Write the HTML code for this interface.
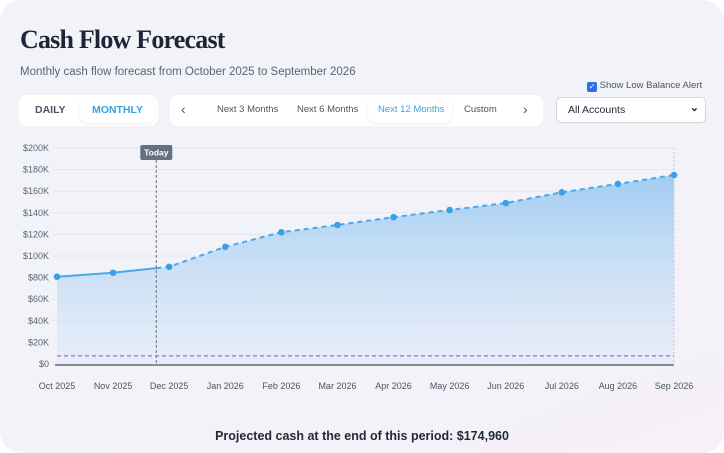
<!DOCTYPE html>
<html><head><meta charset="utf-8"><style>
body{margin:0;width:724px;height:453px;overflow:hidden;background:#fff;font-family:"Liberation Sans",sans-serif;}
#card{position:absolute;left:0;top:0;width:724px;height:453px;border-radius:22px;background:linear-gradient(160deg,#f1f3f9 0%,#f3f2f9 60%,#f6f0f7 100%);overflow:hidden;}
.t{position:absolute;white-space:nowrap;}
.pill{position:absolute;background:#fff;border-radius:8px;}
.tab{position:absolute;font-size:9.5px;color:#4b5563;}
</style></head><body>
<div id="card">
<div class="t" style="left:20px;top:25px;font-family:'Liberation Serif',serif;font-size:26px;font-weight:bold;color:#1e2538;letter-spacing:-0.8px">Cash Flow Forecast</div>
<div class="t" style="left:20px;top:66px;font-size:11.5px;color:#5b6475">Monthly cash flow forecast from October 2025 to September 2026</div>
<div class="t" style="left:587px;top:80px;font-size:9.5px;color:#4b5563"><span style="display:inline-block;width:10px;height:10px;background:#2f6fe0;border-radius:2px;vertical-align:-1px;color:#fff;font-size:8px;text-align:center;line-height:10px">✓</span> Show Low Balance Alert</div>
<div class="pill" style="left:19px;top:95px;width:139px;height:31px"></div>
<div class="t" style="left:35px;top:104px;font-size:10.5px;font-weight:bold;color:#4b5563">DAILY</div>
<div class="pill" style="left:80px;top:97px;width:74px;height:26px;box-shadow:0 1px 3px rgba(0,0,0,.08)"><span class="t" style="left:12px;top:7px;font-size:10.5px;font-weight:bold;color:#3aa0e8">MONTHLY</span></div>
<div class="pill" style="left:170px;top:95px;width:373px;height:31px"></div>
<div class="t" style="left:181px;top:101px;font-size:14px;color:#4b5563">‹</div>
<div class="tab" style="left:217px;top:104px">Next 3 Months</div>
<div class="tab" style="left:297px;top:104px">Next 6 Months</div>
<div class="pill" style="left:368px;top:97px;width:84px;height:26px;box-shadow:0 1px 3px rgba(0,0,0,.08)"><span class="t" style="left:10px;top:7px;font-size:9.5px;color:#3aa0e8">Next 12 Months</span></div>
<div class="tab" style="left:464px;top:104px">Custom</div>
<div class="t" style="left:523px;top:101px;font-size:14px;color:#4b5563">›</div>
<div class="pill" style="left:556px;top:97px;width:148px;height:24px;border:1px solid #d1d5db;border-radius:5px"><span class="t" style="left:11px;top:6px;font-size:10.5px;color:#1f2937">All Accounts</span><span class="t" style="right:6px;top:3px;font-size:11px;color:#1f2937;font-weight:bold">⌄</span></div>
<svg id="chart" width="724" height="453" style="position:absolute;left:0;top:0"></svg>
<div class="t" style="left:0;width:724px;text-align:center;top:429px;font-size:12.5px;font-weight:bold;color:#1f2937">Projected cash at the end of this period: $174,960</div>
</div>
<script>
const months=["Oct 2025","Nov 2025","Dec 2025","Jan 2026","Feb 2026","Mar 2026","Apr 2026","May 2026","Jun 2026","Jul 2026","Aug 2026","Sep 2026"];
const balances=[80.8,84.5,90,108.5,122,128.7,136,142.6,149,159,166.7,174.96];
const yTicks=[0,20,40,60,80,100,120,140,160,180,200];
const lowBalance=7.5;
const todayPos=1.77;
const NS="http://www.w3.org/2000/svg",svg=document.getElementById('chart');
const x0=57,x1=674,yb=364,yt=148,ymax=200;
const X=i=>x0+i*(x1-x0)/(months.length-1);
const Y=v=>yb-v/ymax*(yb-yt);
function mk(t,a,p){const e=document.createElementNS(NS,t);for(const k in a)e.setAttribute(k,a[k]);(p||svg).appendChild(e);return e;}
const defs=mk('defs',{});const g=mk('linearGradient',{id:'fill',x1:0,y1:0,x2:0,y2:1},defs);
mk('stop',{offset:'0','stop-color':'#8cc4f0','stop-opacity':'0.8'},g);mk('stop',{offset:'1','stop-color':'#d6e6f8','stop-opacity':'0.4'},g);
yTicks.forEach(v=>{const l=mk('line',{x1:x0-4,x2:x1,y1:Y(v),y2:Y(v),stroke:'#e5e7ef','stroke-width':1});
const t=mk('text',{x:49,y:Y(v)+3,'text-anchor':'end','font-size':9,fill:'#5b6475'});t.textContent='$'+v+(v?'K':'');});
let d='M'+X(0)+','+yb;balances.forEach((v,i)=>d+=' L'+X(i)+','+Y(v));d+=' L'+X(months.length-1)+','+yb+' Z';
const area=mk('path',{d:d,fill:'url(#fill)'});
mk('line',{x1:x1,x2:x1,y1:yt,y2:yb,stroke:'#c8c8e0','stroke-dasharray':'2,2'});
const ti=Math.floor(todayPos),tf=todayPos-ti,tx=X(todayPos),tv=balances[ti]+(balances[ti+1]-balances[ti])*tf;
let s='M'+X(0)+','+Y(balances[0]);for(let i=1;i<=ti;i++)s+=' L'+X(i)+','+Y(balances[i]);s+=' L'+tx+','+Y(tv);
const sl=mk('path',{d:s,fill:'none',stroke:'#4aa8ec','stroke-width':2});
let f='M'+tx+','+Y(tv);for(let i=ti+1;i<balances.length;i++)f+=' L'+X(i)+','+Y(balances[i]);
const fl=mk('path',{d:f,fill:'none',stroke:'#4aa8ec','stroke-width':2,'stroke-dasharray':'5,4'});
const lb=mk('line',{x1:x0,x2:x1,y1:Y(lowBalance),y2:Y(lowBalance),stroke:'#9b6cf5','stroke-width':1.3,'stroke-dasharray':'4,3'});
mk('line',{x1:x0-2,x2:x1,y1:yb+1,y2:yb+1,stroke:'#8a8a90','stroke-width':2});
const tl=mk('line',{x1:tx,x2:tx,y1:160,y2:yb,stroke:'#6b7280','stroke-width':1,'stroke-dasharray':'3,2'});
const tr=mk('rect',{x:tx-16,y:145,width:32,height:15,rx:2,fill:'#667085'});
const tt=mk('text',{x:tx,y:155.5,'text-anchor':'middle','font-size':8.5,'font-weight':'bold',fill:'#fff'});tt.textContent='Today';
balances.forEach((v,i)=>{const c=mk('circle',{cx:X(i),cy:Y(v),r:3.3,fill:'#3aa0e8'});
const t=mk('text',{x:X(i),y:389,'text-anchor':'middle','font-size':9,fill:'#4b5563'});t.textContent=months[i];});
</script>
</body></html>
